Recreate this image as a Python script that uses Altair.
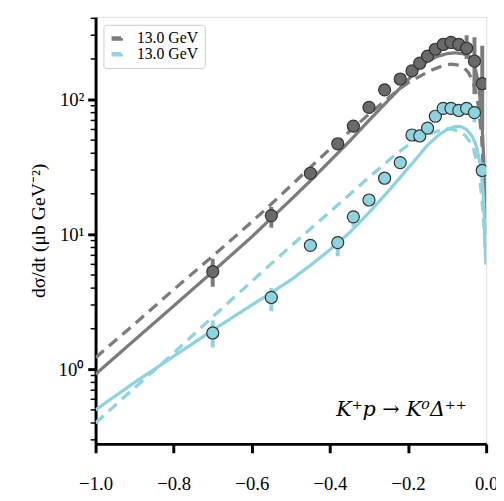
import altair as alt
import pandas as pd

# ---------------- data ----------------
pt_t = [-0.70, -0.55, -0.45, -0.38, -0.34, -0.30, -0.26, -0.22, -0.19, -0.17,
        -0.15, -0.13, -0.11, -0.09, -0.07, -0.05, -0.03, -0.01]
gray_v = [5.3, 13.8, 28.4, 47, 63.5, 87.5, 118, 142, 163, 186,
          210, 236, 256, 265, 256, 240, 193, 131]
gray_lo = [4.1, 11.2, 26, 43, 58, 80, 108, 130, 150, 171,
           193, 217, 235, 244, 232, 200, 110, 60]
gray_hi = [6.6, 16.0, 31, 51, 69, 95, 128, 154, 176, 201,
           227, 255, 277, 286, 282, 300, 290, 250]
cyan_v = [1.86, 3.41, 8.3, 8.7, 13.5, 18.0, 26.1, 34.1, 54.6, 53.7,
          61.4, 75.2, 86, 86, 83, 86, 80, 29.8]
cyan_lo = [1.45, 2.7, 7.8, 6.9, 11.4, 16.5, 24, 31.5, 50, 49.5,
           57, 70, 80, 80, 77, 80, 68, 26]
cyan_hi = [2.3, 4.0, 8.8, 9.5, 14.7, 19.5, 28, 37, 59, 58,
           66, 81, 92, 92, 89, 92, 88, 34]

gray_solid_t = [-1.0, -0.9, -0.8, -0.7, -0.6, -0.55, -0.5, -0.45, -0.4, -0.35, -0.3,
                -0.25, -0.2, -0.175, -0.15, -0.125, -0.1, -0.08, -0.06, -0.05, -0.04,
                -0.03, -0.02, -0.012, -0.006, -0.002]
gray_solid_v = [0.92, 1.65, 2.95, 5.3, 9.6, 13.2, 18.1, 25, 35, 49, 70,
                99, 140, 168, 193, 209, 219, 222, 219, 214, 205,
                180, 135, 80, 35, 10]

gray_dashed_t = [-1.0, -0.9, -0.8, -0.7, -0.6, -0.55, -0.5, -0.45, -0.4, -0.35, -0.3,
                 -0.25, -0.22, -0.2, -0.15, -0.134, -0.11, -0.09, -0.07, -0.055, -0.045,
                 -0.035, -0.028, -0.02, -0.012, -0.006, -0.002]
gray_dashed_v = [1.22, 2.17, 3.9, 6.9, 12.4, 16.8, 23.0, 31.5, 43, 58, 78,
                 103, 121, 133, 160, 168, 179, 183, 180, 170, 158,
                 138, 118, 90, 55, 25, 8]

cyan_solid_t = [-1.0, -0.9, -0.8, -0.7, -0.6, -0.55, -0.5, -0.45, -0.4, -0.35, -0.3,
                -0.25, -0.2, -0.184, -0.15, -0.12, -0.1, -0.08, -0.065, -0.05, -0.035,
                -0.025, -0.015, -0.008, -0.003, -0.001]
cyan_solid_v = [0.50, 0.80, 1.25, 1.95, 3.0, 3.7, 4.6, 5.9, 7.7, 10.3, 14.5,
                21, 31, 35, 46, 55, 60, 63, 63, 60, 53,
                45, 33, 21, 10, 6]

cyan_dashed_t = [-1.0, -0.9, -0.8, -0.7, -0.6, -0.5, -0.4, -0.3, -0.242, -0.2, -0.184,
                 -0.15, -0.12, -0.1, -0.085, -0.07, -0.053, -0.04, -0.033, -0.02, -0.013,
                 -0.008, -0.003, -0.001]
cyan_dashed_v = [0.40, 0.73, 1.32, 2.45, 4.5, 8.2, 14.7, 26.5, 37, 46, 50,
                 55, 59, 60.5, 60, 58, 54, 48, 44, 31, 21,
                 14.5, 8, 6]

series_keys = ["gray", "cyan"]
legend_label = "13.0 GeV"
x_ticks = [-1.0, -0.8, -0.6, -0.4, -0.2, 0.0]
y_ticks = [1, 10, 100]
y_minor = [0.3, 0.4, 0.5, 0.6, 0.7, 0.8, 0.9,
           2, 3, 4, 5, 6, 7, 8, 9,
           20, 30, 40, 50, 60, 70, 80, 90,
           200, 300, 400]
annotation = "K⁺p → K⁰Δ⁺⁺"
annotation_t = -0.05
annotation_v = 0.5
y_title = "dσ/dt (μb GeV⁻²)"

# ---------------- tables ----------------
pts = pd.concat([
    pd.DataFrame({"t": pt_t, "v": gray_v, "lo": gray_lo, "hi": gray_hi, "series": "gray"}),
    pd.DataFrame({"t": pt_t, "v": cyan_v, "lo": cyan_lo, "hi": cyan_hi, "series": "cyan"}),
], ignore_index=True)

lines = pd.concat([
    pd.DataFrame({"t": gray_solid_t, "v": gray_solid_v, "series": "gray", "style": "solid"}),
    pd.DataFrame({"t": gray_dashed_t, "v": gray_dashed_v, "series": "gray", "style": "dashed"}),
    pd.DataFrame({"t": cyan_solid_t, "v": cyan_solid_v, "series": "cyan", "style": "solid"}),
    pd.DataFrame({"t": cyan_dashed_t, "v": cyan_dashed_v, "series": "cyan", "style": "dashed"}),
], ignore_index=True)

minor = pd.DataFrame({"v": y_minor})
ann = pd.DataFrame({"t": [annotation_t], "v": [annotation_v], "label": [annotation]})

FONT = "Liberation Serif"
LINE_GRAY = "#7c7c7c"
LINE_CYAN = "#8fd3e0"
FILL_GRAY = "#6a6a6a"
FILL_CYAN = "#8dd3e0"

xax = alt.Axis(values=x_ticks, format=".1f", title=None, grid=False,
               labelFont=FONT, labelFontSize=19, labelColor="black", labelPadding=22,
               labelFlush=False, tickSize=9, tickWidth=3, tickColor="black",
               domainColor="black", domainWidth=3)
yax = alt.Axis(values=y_ticks, grid=False, title=y_title,
               labelExpr="datum.value == 1 ? '10⁰' : datum.value == 10 ? '10¹' : '10²'",
               labelFont=FONT, labelFontSize=19, labelColor="black", labelPadding=4,
               labelFlush=False, tickSize=8, tickWidth=3, tickColor="black",
               domainColor="black", domainWidth=3,
               titleFont=FONT, titleFontSize=20, titleFontWeight="normal", titleColor="black",
               titleX=-58, titleY=217, titleAngle=270, titleAlign="center", titleBaseline="middle")

xs = alt.Scale(domain=[-1.0, 0.0], nice=False, zero=False)
ys = alt.Scale(type="log", domain=[0.28, 410], nice=False)

X = alt.X("t:Q", scale=xs, axis=xax)
Y = alt.Y("v:Q", scale=ys, axis=yax)

color_scale = alt.Scale(domain=series_keys, range=[LINE_GRAY, LINE_CYAN])
stroke_scale = alt.Scale(domain=series_keys, range=[LINE_GRAY, LINE_CYAN])
fill_scale = alt.Scale(domain=series_keys, range=[FILL_GRAY, FILL_CYAN])

legend = alt.Legend(orient="none", legendX=8, legendY=8, title=None,
                    labelExpr=f"'{legend_label}'",
                    symbolType="M-1,-0.12L1,-0.12L1,0.12L-1,0.12Z",
                    symbolStrokeWidth=3.5, symbolSize=64,
                    symbolDash=[1, 0],
                    labelFont=FONT, labelFontSize=16, labelColor="black",
                    labelOffset=12, rowPadding=0,
                    fillColor="white", strokeColor="#cccccc",
                    cornerRadius=3, padding=6)

line_layer = alt.Chart(lines).mark_line(strokeWidth=3.3, clip=True).encode(
    x=X, y=Y,
    color=alt.Color("series:N", scale=color_scale, legend=None),
    strokeDash=alt.StrokeDash("style:N",
                              scale=alt.Scale(domain=["solid", "dashed"], range=[[1, 0], [11, 7]]),
                              legend=None),
)

err_layer = alt.Chart(pts).mark_rule(strokeWidth=4, clip=True).encode(
    x=X,
    y=alt.Y("lo:Q", scale=ys, axis=yax),
    y2="hi:Q",
    stroke=alt.Stroke("series:N", scale=stroke_scale, legend=legend),
)

pt_layer = alt.Chart(pts).mark_circle(size=150, opacity=1, stroke="#333333",
                                      strokeWidth=1.2, clip=True).encode(
    x=X, y=Y,
    fill=alt.Fill("series:N", scale=fill_scale, legend=None),
)

minor_layer = alt.Chart(minor).mark_rule(color="black", strokeWidth=1.5).encode(
    y=alt.Y("v:Q", scale=ys, axis=yax),
    x=alt.value(-5), x2=alt.value(0),
)

ann_layer = alt.Chart(ann).mark_text(align="right", baseline="middle", font="DejaVu Serif",
                                     fontSize=21, fontStyle="italic", color="black").encode(
    x=X, y=Y, text="label:N",
)

chart = alt.layer(line_layer, err_layer, pt_layer, minor_layer, ann_layer).properties(
    width=397, height=434,
    padding={"left": 89, "top": 5, "right": 10, "bottom": 54},
    autosize=alt.AutoSizeParams(type="none"),
).resolve_scale(color="independent", stroke="independent", fill="independent"
).resolve_legend(color="independent", stroke="independent", fill="independent"
).configure_view(stroke="black", strokeWidth=3).configure(background="white")

chart.save("out.html", embed_options={"renderer": "svg", "actions": False})
